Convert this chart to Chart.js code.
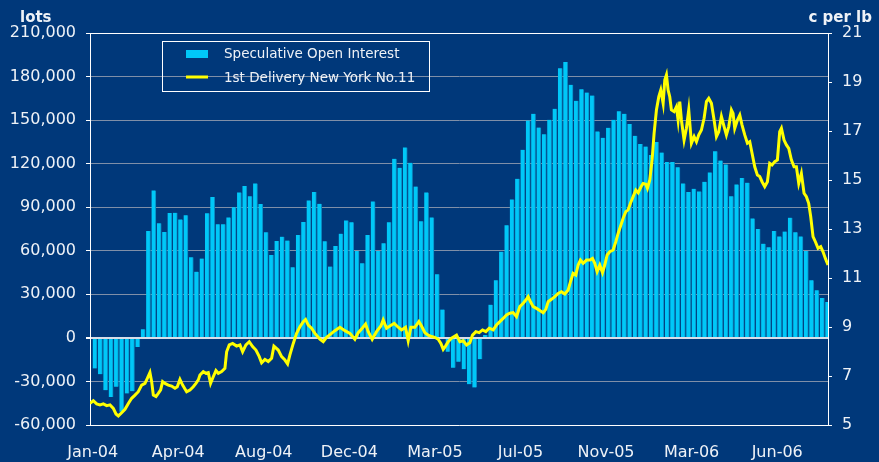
<!DOCTYPE html>
<html>
<head>
<meta charset="utf-8">
<script src="https://cdn.jsdelivr.net/npm/chart.js@4/dist/chart.umd.min.js"></script>
<style>
  html, body { margin: 0; padding: 0; background: #00387A; }
  #wrap { width: 879px; height: 462px; }
</style>
</head>
<body>
<div id="wrap"><canvas id="c" width="879" height="462"></canvas></div>
<script>
// ---- data ----
const tickLabels = ['Jan-04','Apr-04','Aug-04','Dec-04','Mar-05','Jul-05','Nov-05','Mar-06','Jun-06'];
const weeksPerTick = 16;

const openInterest = [
  -21100,-25000,-36000,-40800,-33700,-50900,-38300,-36700,-6200,6000,
  73600,101600,78900,72900,86000,86200,81600,84400,55500,45600,
  54600,85800,97000,78200,78200,83000,89900,100200,104600,97500,
  106400,92200,72700,57100,66700,69700,67000,48600,70900,79800,
  94700,100400,92400,66500,49100,63300,71800,80900,79600,59800,
  51400,70900,94000,59800,65100,79600,123400,117200,131200,120600,
  104300,80300,100200,83000,43800,19500,-9600,-20600,-16500,-21600,
  -31900,-34100,-14700,2000,22900,39700,59400,77500,95400,109600,
  129600,149700,154300,144900,140300,150200,157800,185700,190100,174300,
  163300,171300,169000,166900,142200,137800,144700,150200,156100,154300,
  147400,139200,133500,131800,125900,134900,127700,121100,121100,117600,
  106400,100400,102700,100900,107500,114000,128600,122200,119500,97500,
  105700,110100,106900,82300,75000,64900,62400,73600,69900,73200,
  82800,72700,69900,59800,39700,32800,27500,24800
];

// price series: position in weeks from the first bar, and price in c/lb
const priceWeek = [
  -0.5,0.12,0.75,1.37,1.99,2.62,3.24,3.86,4.36,4.80,5.42,6.04,6.67,7.29,7.91,8.53,9.16,9.78,10.22,10.71,
  11.03,11.34,11.84,12.27,12.71,13.08,13.52,14.14,14.76,15.39,15.82,16.32,16.82,17.57,18.19,18.81,19.31,19.75,20.06,20.68,
  21.18,21.62,22.05,22.55,23.05,23.49,24.11,24.73,25.05,25.54,26.17,26.91,27.54,28.04,28.66,29.28,29.90,30.53,31.15,31.59,
  32.21,32.83,33.46,33.89,
  34.70,35.33,35.95,36.45,36.88,37.51,38.13,38.75,39.38,39.81,40.31,40.93,41.56,42.49,43.11,43.74,44.67,45.29,46.23,47.16,
  48.10,49.03,49.66,50.40,51.03,51.53,52.27,53.08,53.89,54.33,54.95,55.58,56.39,57.13,57.76,58.50,59.00,59.50,60.25,61.00,
  61.49,62.12,62.74,63.36,63.99,64.61,65.11,65.55,65.98,66.48,67.10,68.04,
  68.66,69.28,69.91,70.53,71.03,71.65,72.27,72.90,73.52,74.14,74.89,75.51,76.14,76.76,77.38,78.01,78.63,79.25,79.87,80.50,
  81.00,81.43,81.87,82.37,82.99,83.61,84.24,84.73,85.17,85.79,86.42,87.04,87.66,88.29,88.91,89.35,89.84,90.34,90.78,91.21,
  91.71,92.34,92.96,93.46,93.89,94.33,94.83,95.33,95.76,96.20,96.70,97.32,97.82,98.25,98.69,99.19,99.69,100.12,100.56,101.06,
  101.56,102.00,102.62,102.93,103.43,
  103.74,104.17,104.61,104.98,105.42,105.86,106.23,106.67,106.98,107.29,107.60,107.91,108.22,108.72,109.16,109.47,109.78,110.09,110.59,111.03,
  111.46,111.96,112.46,112.90,113.33,113.83,114.33,114.77,115.20,115.70,116.20,116.64,117.07,117.57,118.07,118.50,118.94,119.44,119.75,120.06,
  120.56,121.00,121.43,121.93,122.43,122.87,123.30,123.80,124.30,124.74,125.17,125.67,126.17,126.60,127.04,127.54,128.04,128.47,128.79,129.28,
  129.72,130.16,130.65,131.15,131.59,132.03,132.52,133.02,133.46,133.89,134.27,134.70,135.14,135.64,136.14,136.57,137.01,137.5
];
const priceCents = [
  5.88,5.99,5.86,5.82,5.86,5.79,5.82,5.68,5.45,5.37,5.50,5.64,5.88,6.09,6.22,6.36,6.63,6.70,6.90,7.14,
  6.77,6.22,6.16,6.29,6.43,6.77,6.70,6.63,6.59,6.50,6.56,6.86,6.63,6.36,6.43,6.56,6.70,6.84,7.04,7.18,
  7.11,7.14,6.70,6.97,7.22,7.11,7.18,7.31,7.99,8.27,8.33,8.22,8.27,7.99,8.27,8.40,8.20,8.06,7.79,7.54,
  7.68,7.59,7.72,8.22,
  8.06,7.79,7.65,7.49,7.86,8.33,8.74,9.01,9.22,9.31,9.08,8.95,8.74,8.50,8.40,8.58,8.74,8.85,8.99,8.85,
  8.74,8.50,8.77,8.95,9.12,8.81,8.50,8.81,9.04,9.29,8.95,9.04,9.15,8.99,8.88,8.99,8.44,8.99,8.99,9.22,
  9.04,8.77,8.67,8.61,8.58,8.50,8.33,8.09,8.22,8.40,8.54,8.67,
  8.40,8.44,8.27,8.36,8.67,8.81,8.77,8.88,8.81,8.95,8.88,9.08,9.22,9.35,9.49,9.56,9.59,9.42,9.83,9.97,
  10.10,10.24,10.03,9.83,9.76,9.67,9.58,9.72,10.03,10.13,10.24,10.37,10.44,10.35,10.51,10.85,11.19,11.12,11.53,11.73,
  11.60,11.73,11.73,11.80,11.60,11.26,11.53,11.22,11.53,11.94,12.07,12.14,12.48,12.82,13.10,13.44,13.71,13.78,14.05,14.32,
  14.59,14.48,14.76,14.86,14.83,
  14.66,15.00,15.82,16.90,17.86,18.40,18.67,18.13,19.08,19.29,18.67,18.40,17.86,17.79,17.99,17.45,18.20,17.45,16.63,17.11,
  17.86,16.50,16.77,16.56,16.84,17.04,17.52,18.20,18.33,18.13,17.45,16.77,16.97,17.59,17.18,16.84,17.18,17.86,17.72,17.11,
  17.45,17.65,17.24,16.84,16.50,16.56,16.09,15.54,15.20,15.14,14.93,14.73,14.93,15.68,15.61,15.75,15.82,16.97,17.11,16.63,
  16.43,16.29,15.82,15.54,15.54,14.86,15.27,14.46,14.32,14.05,13.50,12.69,12.48,12.21,12.28,12.07,11.80,11.53
];

const leftAxis = { min: -60000, max: 210000, step: 30000, title: 'lots' };
const rightAxis = { min: 5, max: 21, step: 2, title: 'c per lb' };
const seriesNames = ['Speculative Open Interest', '1st Delivery New York No.11'];

// ---- styling ----
const BG = '#00387A';
const BAR = '#00C8F8';
const BAR_EDGE = '#0A88BE';
const LINE = '#FFFF00';
const TXT = '#EEF2F7';
const GRID = '#7F8FA8';
const FONT = '"DejaVu Sans", Verdana, sans-serif';

const weekLabels = openInterest.map((_, i) => i);
const linePoints = priceWeek.map((w, i) => ({ x: w, y: priceCents[i] }));
const fmt = v => (v < 0 ? '-' : '') + Math.abs(v).toString().replace(/\B(?=(\d{3})+(?!\d))/g, ',');

const bgPlugin = {
  id: 'bg',
  beforeDraw(chart) {
    const ctx = chart.ctx;
    ctx.save();
    ctx.fillStyle = BG;
    ctx.fillRect(0, 0, chart.width, chart.height);
    ctx.restore();
  }
};

const decorPlugin = {
  id: 'decor',
  afterDraw(chart) {
    const ctx = chart.ctx;
    const a = chart.chartArea;
    ctx.save();
    ctx.fillStyle = TXT;
    ctx.font = 'bold 15px ' + FONT;
    ctx.textBaseline = 'alphabetic';
    ctx.textAlign = 'left';
    ctx.fillText(leftAxis.title, 20, 22);
    ctx.textAlign = 'right';
    ctx.fillText(rightAxis.title, 872, 22);
    ctx.strokeStyle = '#FFFFFF';
    ctx.lineWidth = 1;
    ctx.beginPath();
    ctx.moveTo(a.left, Math.round(a.top) + 0.5);
    ctx.lineTo(a.right, Math.round(a.top) + 0.5);
    ctx.stroke();
    const lx = a.left + 72, ly = a.top + 8, lw = 267, lh = 50;
    ctx.strokeStyle = '#FFFFFF';
    ctx.lineWidth = 1;
    ctx.strokeRect(Math.round(lx) + 0.5, Math.round(ly) + 0.5, lw, lh);
    ctx.fillStyle = BAR;
    ctx.fillRect(lx + 24, ly + 9, 22, 8);
    ctx.strokeStyle = LINE;
    ctx.lineWidth = 3;
    ctx.beginPath();
    ctx.moveTo(lx + 24, ly + 36);
    ctx.lineTo(lx + 46, ly + 36);
    ctx.stroke();
    ctx.fillStyle = TXT;
    ctx.font = '13.5px ' + FONT;
    ctx.textAlign = 'left';
    ctx.textBaseline = 'middle';
    ctx.fillText(seriesNames[0], lx + 62, ly + 13);
    ctx.fillText(seriesNames[1], lx + 62, ly + 37);
    ctx.restore();
  }
};

new Chart(document.getElementById('c'), {
  data: {
    labels: weekLabels,
    datasets: [
      {
        type: 'line',
        label: seriesNames[1],
        data: linePoints,
        xAxisID: 'xl',
        yAxisID: 'y1',
        borderColor: LINE,
        borderWidth: 3,
        pointRadius: 0,
        tension: 0,
        order: 0
      },
      {
        type: 'bar',
        label: seriesNames[0],
        data: openInterest,
        xAxisID: 'x',
        yAxisID: 'y',
        backgroundColor: BAR,
        borderColor: BAR_EDGE,
        borderWidth: { left: 0, right: 1, top: 0, bottom: 0 },
        borderSkipped: false,
        barThickness: 4.4,
        order: 1
      }
    ]
  },
  options: {
    responsive: false,
    animation: false,
    devicePixelRatio: 1,
    layout: { padding: { top: 33, left: 0, right: 0, bottom: 0 } },
    plugins: { legend: { display: false }, tooltip: { enabled: false } },
    scales: {
      x: {
        type: 'category',
        position: 'bottom',
        offset: true,
        grid: { display: false, drawTicks: false },
        border: { display: true, color: '#FFFFFF', width: 1 },
        ticks: {
          autoSkip: false,
          maxRotation: 0,
          padding: 18,
          color: TXT,
          font: { family: FONT, size: 16 },
          callback: (v, i) => (i % weeksPerTick === 0 ? tickLabels[i / weeksPerTick] : null)
        },
        afterFit: s => { s.height = 37; }
      },
      xl: {
        type: 'linear',
        display: false,
        min: -0.5,
        max: openInterest.length - 0.5
      },
      y: {
        position: 'left',
        min: leftAxis.min,
        max: leftAxis.max,
        grid: {
          color: c => (c.tick && c.tick.value === 0 ? '#D8DEE8' : (c.tick && c.tick.value === leftAxis.max ? '#FFFFFF' : GRID)),
          lineWidth: c => (c.tick && c.tick.value === 0 ? 2 : 1),
          tickColor: '#FFFFFF',
          tickLength: 4
        },
        border: { display: true, color: '#FFFFFF', width: 1 },
        ticks: {
          stepSize: leftAxis.step,
          padding: 10,
          color: TXT,
          font: { family: FONT, size: 16 },
          callback: v => fmt(v)
        },
        afterFit: s => { s.width = 90; }
      },
      y1: {
        position: 'right',
        min: rightAxis.min,
        max: rightAxis.max,
        grid: { drawOnChartArea: false, tickColor: '#FFFFFF', tickLength: 4 },
        border: { display: true, color: '#FFFFFF', width: 1 },
        ticks: {
          stepSize: rightAxis.step,
          padding: 10,
          color: TXT,
          font: { family: FONT, size: 16 }
        },
        afterFit: s => { s.width = 51; }
      }
    }
  },
  plugins: [bgPlugin, decorPlugin]
});
</script>
</body>
</html>
